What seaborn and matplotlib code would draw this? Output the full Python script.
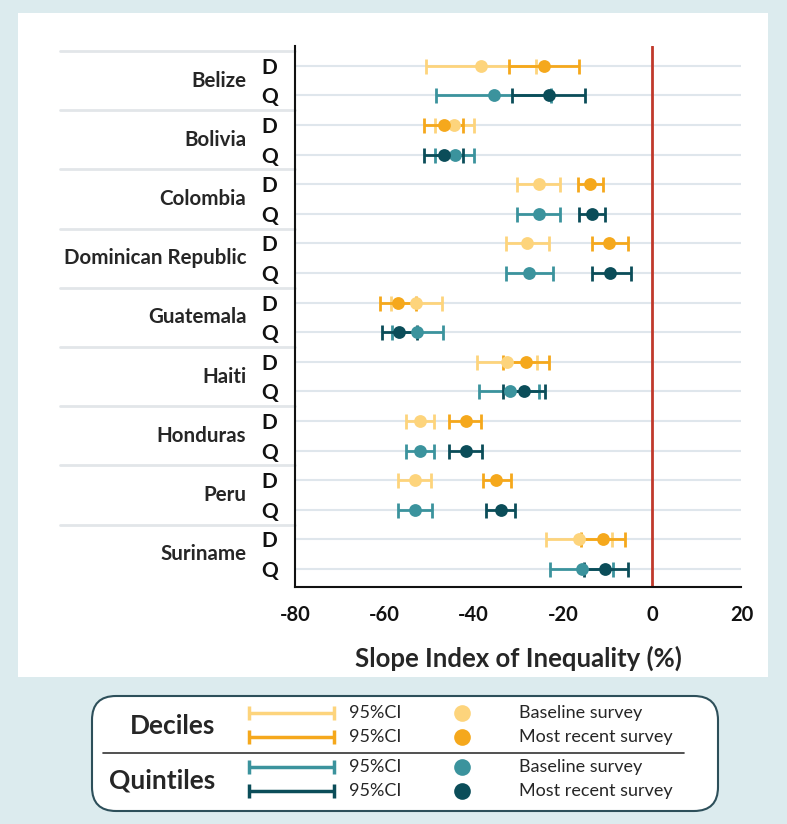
import matplotlib
matplotlib.use("Agg")
import matplotlib.pyplot as plt
import matplotlib.transforms as mtransforms
from matplotlib.patches import FancyBboxPatch, Rectangle
import pandas as pd
import seaborn as sns

# --- data (SII in %) ---
countries = ["Belize", "Bolivia", "Colombia", "Dominican Republic", "Guatemala",
             "Haiti", "Honduras", "Peru", "Suriname"]

dec_base = [-38.3, -44.4, -25.4, -28.0, -53.0, -32.5, -52.0, -53.2, -16.4]
dec_base_lo = [-50.7, -48.7, -30.2, -32.7, -58.6, -39.2, -55.2, -56.9, -23.7]
dec_base_hi = [-26.0, -40.0, -20.7, -23.1, -47.1, -25.9, -48.8, -49.6, -9.1]

dec_recent = [-24.3, -46.6, -14.0, -9.6, -57.0, -28.3, -41.8, -34.9, -11.1]
dec_recent_lo = [-32.1, -51.0, -16.7, -13.5, -60.9, -33.3, -45.4, -37.9, -15.9]
dec_recent_hi = [-16.4, -42.4, -11.0, -5.4, -53.0, -23.1, -38.3, -31.7, -6.0]

quin_base = [-35.5, -44.2, -25.4, -27.6, -52.7, -31.9, -52.0, -53.2, -15.8]
quin_base_lo = [-48.3, -48.6, -30.2, -32.7, -58.3, -38.7, -55.2, -56.9, -22.9]
quin_base_hi = [-22.7, -39.9, -20.7, -22.2, -46.9, -25.4, -48.8, -49.4, -8.7]

quin_recent = [-23.2, -46.6, -13.5, -9.4, -56.7, -28.8, -41.8, -33.9, -10.5]
quin_recent_lo = [-31.4, -51.0, -16.4, -13.5, -60.6, -33.3, -45.4, -37.2, -15.3]
quin_recent_hi = [-15.1, -42.4, -10.6, -4.8, -52.7, -24.0, -38.1, -30.8, -5.5]

x_ticks = [-80, -60, -40, -20, 0, 20]

# series: (key, group, offset within country, colour)
SERIES = [
    ("dec_base", "D", 0, "#fdd47c", dec_base, dec_base_lo, dec_base_hi),
    ("dec_recent", "D", 0, "#f5a81c", dec_recent, dec_recent_lo, dec_recent_hi),
    ("quin_base", "Q", 1, "#3b939d", quin_base, quin_base_lo, quin_base_hi),
    ("quin_recent", "Q", 1, "#0b4d59", quin_recent, quin_recent_lo, quin_recent_hi),
]

rows = []
for key, grp, off, col, pts, los, his in SERIES:
    for i, c in enumerate(countries):
        rows.append({"series": key, "country": c, "row": 2 * i + off,
                     "sii": pts[i], "lo": los[i], "hi": his[i]})
df = pd.DataFrame(rows)
colors = {s[0]: s[3] for s in SERIES}

sns.set_style("white")
plt.rcParams["font.family"] = ["Lato", "DejaVu Sans"]

fig = plt.figure(figsize=(7.87, 8.24), dpi=100)
fig.patch.set_facecolor("#dcebee")

# background panel + legend live on a pixel-space overlay
bg = fig.add_axes([0, 0, 1, 1], zorder=-5)
bg.set_xlim(0, 787)
bg.set_ylim(824, 0)
bg.axis("off")
bg.add_patch(Rectangle((18, 13), 750, 664, facecolor="white", edgecolor="none"))

ax = fig.add_axes([0.3748, 0.2873, 0.5673, 0.6572])
ax.set_facecolor("white")

for key, *_ in SERIES:
    sub = df[df["series"] == key]
    ax.errorbar(sub["sii"], sub["row"],
                xerr=[sub["sii"] - sub["lo"], sub["hi"] - sub["sii"]],
                fmt="none", ecolor=colors[key], elinewidth=2, capsize=5.4,
                capthick=2, zorder=3)
    sns.scatterplot(data=sub, x="sii", y="row", color=colors[key], s=85,
                    linewidth=0, ax=ax, legend=False, zorder=4)

ax.axvline(0, color="#c0392b", lw=2, zorder=2)

ax.set_xlim(-80, 20)
ax.set_ylim(17.62, -0.68)
ax.set_xticks(x_ticks)
ax.set_xticklabels([str(t) for t in x_ticks], fontweight="bold", fontsize=14.5)
ax.set_yticks(range(2 * len(countries)))
ax.set_yticklabels(["D", "Q"] * len(countries), fontweight="bold", fontsize=15)
ax.tick_params(axis="x", length=8, width=1.5, pad=5, colors="#111111")
ax.tick_params(axis="y", length=5.5, width=1.2, pad=7, colors="#111111")
ax.set_xlabel("Slope Index of Inequality (%)", fontsize=18.5, fontweight="bold",
              labelpad=15)
ax.set_ylabel("")

ax.grid(axis="y", color="#dfe6ec", lw=1.5)
ax.set_axisbelow(True)
sns.despine(ax=ax, top=True, right=True)
for side in ("left", "bottom"):
    ax.spines[side].set_color("#111111")
    ax.spines[side].set_linewidth(1.5)

# country labels + group separators in the label column
blend = mtransforms.blended_transform_factory(ax.transAxes, ax.transData)
for i, c in enumerate(countries):
    ax.text(-0.109, 2 * i + 0.5, c, transform=blend, ha="right", va="center",
            fontsize=14.8, fontweight="bold")
    ax.plot([-0.527, 0], [2 * i - 0.5] * 2, transform=blend, clip_on=False,
            color="#e2e6e9", lw=2)

# --- custom legend box ---
bg.add_patch(FancyBboxPatch((92, 696), 626, 115,
                            boxstyle="round,pad=0,rounding_size=24",
                            facecolor="white", edgecolor="#2d4f5a", lw=1.5))
bg.plot([103, 684], [752.7, 752.7], color="#333333", lw=1.2)
bg.text(215, 726, "Deciles", ha="right", va="center", fontsize=19, fontweight="bold")
bg.text(215, 781, "Quintiles", ha="right", va="center", fontsize=19, fontweight="bold")

leg_rows = [713.3, 737.3, 766.7, 790.7]
leg_text = ["Baseline survey", "Most recent survey"] * 2
for (key, *_), yy, lab in zip(SERIES, leg_rows, leg_text):
    bg.errorbar([291.3], [yy], xerr=[[42.6], [42.6]], fmt="none",
                ecolor=colors[key], elinewidth=2.5, capsize=5, capthick=2.5)
    bg.text(349, yy, "95%CI", ha="left", va="center", fontsize=13)
    bg.plot([462], [yy], "o", color=colors[key], markersize=12, mew=0)
    bg.text(518.6, yy, lab, ha="left", va="center", fontsize=13)

fig.savefig("out.png", dpi=100, facecolor=fig.get_facecolor())
